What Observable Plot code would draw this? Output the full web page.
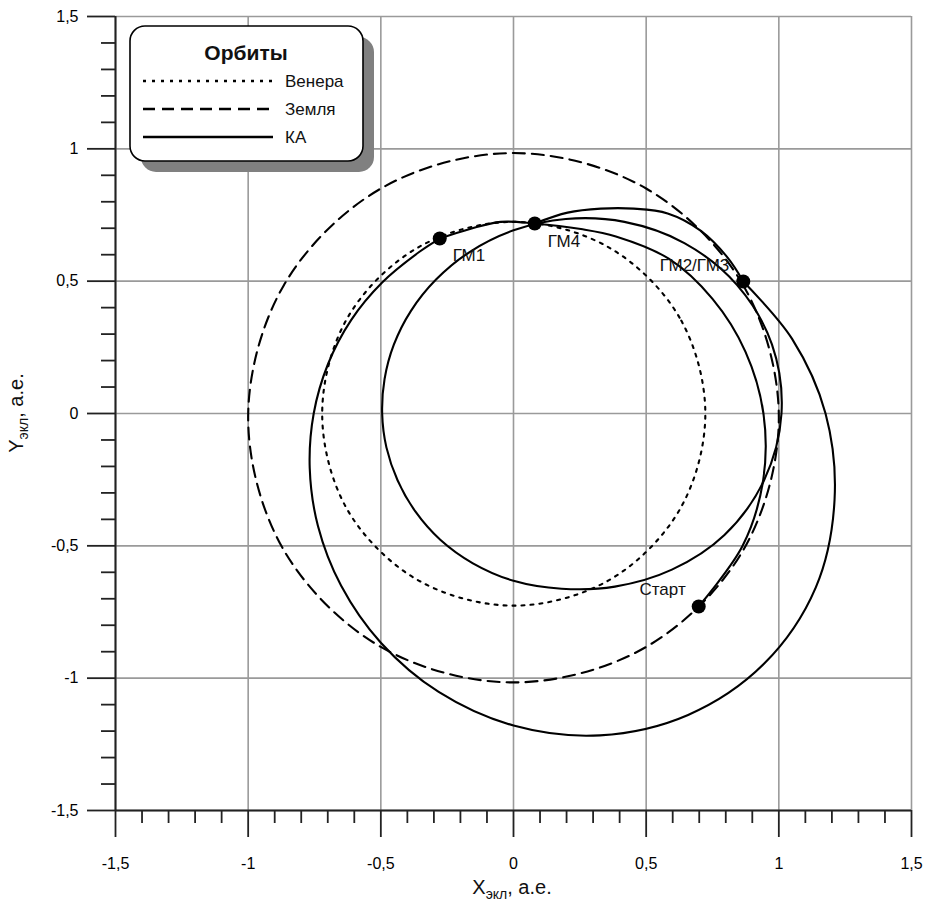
<!DOCTYPE html>
<html><head><meta charset="utf-8">
<script src="https://cdn.jsdelivr.net/npm/d3@7"></script>
<script src="https://cdn.jsdelivr.net/npm/@observablehq/plot@0.6"></script>
<style>body{margin:0;background:#fff;font-family:"Liberation Sans",Arial,sans-serif}</style>
</head><body><div id="chart"></div>
<script>
// ---- data (ecliptic coordinates, AU) ----
const venusOrbit = [[0.723,0.0],[0.626,0.362],[0.362,0.626],[0.0,0.724],[-0.362,0.626],[-0.626,0.361],[-0.721,0.0],[-0.627,-0.362],[-0.363,-0.628],[0.0,-0.726],[0.363,-0.628],[0.627,-0.362]];
const earthOrbit = [[1.0,-0.016],[0.866,0.484],[0.5,0.85],[0.0,0.984],[-0.5,0.85],[-0.866,0.484],[-1.0,-0.016],[-0.866,-0.516],[-0.5,-0.882],[0.0,-1.016],[0.5,-0.882],[0.866,-0.516]];
// Start -> GM1
const legStart = [[0.698,-0.729],[0.864,-0.499],[0.941,-0.252],[0.942,0.0],[0.874,0.234],[0.750,0.433],[0.585,0.585],[0.386,0.669],[0.254,0.697],[0.080,0.718],[-0.048,0.724],[-0.161,0.698],[-0.278,0.661]];
// GM1 -> GM2
const legBig = [[-0.278,0.661],[-0.353,0.612],[-0.495,0.495],[-0.612,0.353],[-0.699,0.187],[-0.753,0.0],[-0.768,-0.206],[-0.737,-0.425],[-0.650,-0.650],[-0.500,-0.866],[-0.282,-1.052],[0.0,-1.179],[0.326,-1.216],[0.658,-1.139],[0.945,-0.945],[1.139,-0.658],[1.210,-0.326],[1.176,0.0],[1.050,0.282],[0.866,0.499]];
// closed inner loop through GM2/GM3 and GM4
const loopInner = [[1.010,0.0],[0.974,0.261],[0.842,0.486],[0.644,0.644],[0.418,0.724],[0.197,0.735],[0.0,0.692],[-0.164,0.611],[-0.292,0.506],[-0.387,0.387],[-0.451,0.260],[-0.486,0.130],[-0.495,0.0],[-0.479,-0.128],[-0.437,-0.252],[-0.370,-0.370],[-0.276,-0.477],[-0.153,-0.566],[0.0,-0.632],[0.181,-0.662],[0.382,-0.654],[0.597,-0.590],[0.795,-0.459],[0.944,-0.253]];
// GM3 -> GM4
const legTop = [[0.866,0.499],[0.807,0.589],[0.705,0.691],[0.581,0.756],[0.453,0.774],[0.329,0.774],[0.204,0.759],[0.080,0.718]];
const events = [
  {name:"Старт", x:0.698, y:-0.729, anchor:"end", dx:-13, dy:-17},
  {name:"ГМ1", x:-0.278, y:0.661, anchor:"start", dx:13, dy:17},
  {name:"ГМ2/ГМ3", x:0.866, y:0.499, anchor:"end", dx:-14, dy:-16},
  {name:"ГМ4", x:0.080, y:0.718, anchor:"start", dx:13, dy:18}
];
const majorTicks = [-1.5,-1,-0.5,0,0.5,1,1.5];
const minorTicks = [-1.4,-1.3,-1.2,-1.1,-0.9,-0.8,-0.7,-0.6,-0.4,-0.3,-0.2,-0.1,0.1,0.2,0.3,0.4,0.6,0.7,0.8,0.9,1.1,1.2,1.3,1.4];
const legendItems = [{label:"Венера", dash:"3,6"},{label:"Земля", dash:"12,7"},{label:"КА", dash:null}];
const legendTitle = "Орбиты";

const fmt = d => String(d).replace(".", ",");
const lineStyle = {x: d=>d[0], y: d=>d[1], stroke:"#000", strokeWidth:2.1};

const plot = Plot.plot({
  width: 929, height: 903,
  marginLeft: 115, marginRight: 18, marginTop: 16, marginBottom: 93,
  x: {domain:[-1.5,1.5]}, y: {domain:[-1.5,1.5]},
  style: {fontFamily:"'Liberation Sans', Arial, sans-serif", fontSize:"16px", color:"#000", background:"#fff", overflow:"visible"},
  marks: [
    Plot.gridX(majorTicks, {stroke:"#9a9a9a", strokeOpacity:1, strokeWidth:1.6}),
    Plot.gridY(majorTicks, {stroke:"#9a9a9a", strokeOpacity:1, strokeWidth:1.6}),
    Plot.axisX(minorTicks, {tickSize:13, tickFormat:()=>"", strokeWidth:1.8, stroke:"#222", label:null}),
    Plot.axisY(minorTicks, {tickSize:14, tickFormat:()=>"", strokeWidth:1.8, stroke:"#222", label:null}),
    Plot.axisX(majorTicks, {tickSize:27, tickPadding:20, tickFormat:fmt, strokeWidth:1.8, stroke:"#222", label:null, fontSize:16}),
    Plot.axisY(majorTicks, {tickSize:28, tickPadding:9, tickFormat:fmt, strokeWidth:1.8, stroke:"#222", label:null, fontSize:16}),
    Plot.ruleX([-1.5], {stroke:"#222", strokeWidth:2}),
    Plot.ruleY([-1.5], {stroke:"#222", strokeWidth:2}),
    Plot.line(venusOrbit, {...lineStyle, curve:"catmull-rom-closed", strokeDasharray:"3,6"}),
    Plot.line(earthOrbit, {...lineStyle, curve:"catmull-rom-closed", strokeDasharray:"12,7"}),
    Plot.line(loopInner, {...lineStyle, curve:"catmull-rom-closed"}),
    Plot.line(legStart, {...lineStyle, curve:"catmull-rom"}),
    Plot.line(legBig, {...lineStyle, curve:"catmull-rom"}),
    Plot.line(legTop, {...lineStyle, curve:"catmull-rom"}),
    Plot.dot(events, {x:"x", y:"y", r:7, fill:"#000"}),
    ...events.map(e => Plot.text([e], {x:"x", y:"y", text:"name", textAnchor:e.anchor, dx:e.dx, dy:e.dy, fontSize:17, fill:"#111"}))
  ]
});
document.getElementById("chart").appendChild(plot);

const svg = d3.select(plot);
// axis titles with subscripts
const xt = svg.append("text").attr("x", 512).attr("y", 894).attr("text-anchor","middle").attr("font-size",20).attr("fill","#111");
xt.append("tspan").text("X");
xt.append("tspan").attr("font-size",14).attr("dy",5).text("экл");
xt.append("tspan").attr("dy",-5).text(", а.е.");
const yt = svg.append("text").attr("transform","translate(23,413) rotate(-90)").attr("text-anchor","middle").attr("font-size",20).attr("fill","#111");
yt.append("tspan").text("Y");
yt.append("tspan").attr("font-size",14).attr("dy",5).text("экл");
yt.append("tspan").attr("dy",-5).text(", а.е.");

// legend
const lg = svg.append("g");
lg.append("rect").attr("x",141).attr("y",37).attr("width",233).attr("height",135).attr("rx",15).attr("fill","#808080");
lg.append("rect").attr("x",130).attr("y",26).attr("width",233).attr("height",135).attr("rx",15).attr("fill","#fff").attr("stroke","#000").attr("stroke-width",1.6);
lg.append("text").attr("x",246).attr("y",60).attr("text-anchor","middle").attr("font-size",21).attr("font-weight","bold").attr("fill","#111").text(legendTitle);
legendItems.forEach((it,i) => {
  const y = 81 + i*28;
  const l = lg.append("line").attr("x1",143).attr("x2",273).attr("y1",y).attr("y2",y).attr("stroke","#000").attr("stroke-width",2.4);
  if (it.dash) l.attr("stroke-dasharray", it.dash);
  lg.append("text").attr("x",285).attr("y",y+6).attr("text-anchor","start").attr("font-size",17).attr("fill","#111").text(it.label);
});
</script></body></html>
